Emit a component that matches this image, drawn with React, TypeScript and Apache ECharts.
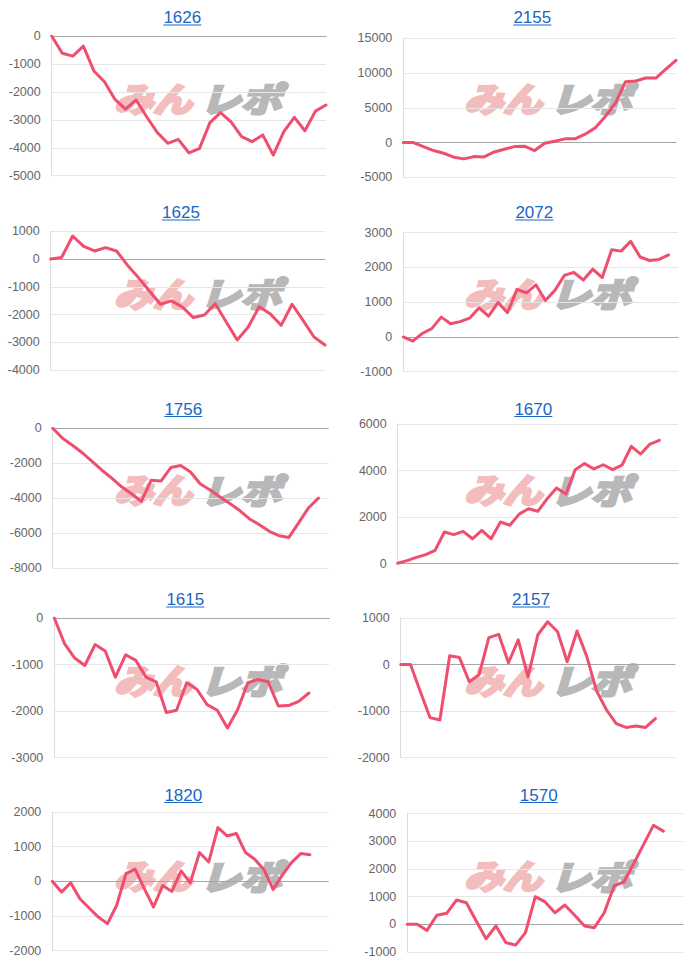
import React, { useEffect, useRef } from "react";
import * as echarts from "echarts";

// ---- data ----
const TITLES = ["1626", "2155", "1625", "2072", "1756", "1670", "1615", "2157", "1820", "1570"];

const S1626 = [0, -620, -720, -360, -1250, -1640, -2270, -2620, -2290, -2890, -3450, -3840, -3700, -4180, -4030, -3100, -2740, -3070, -3600, -3780, -3540, -4260, -3420, -2910, -3390, -2690, -2470];
const S2155 = [0, 0, -580, -1150, -1540, -2110, -2350, -2020, -2070, -1350, -960, -580, -530, -1150, -100, 190, 530, 530, 1200, 2110, 3750, 5670, 8750, 8850, 9280, 9280, 10580, 11830];
const S1625 = [0, 60, 830, 460, 290, 410, 290, -220, -670, -1150, -1630, -1510, -1730, -2110, -2020, -1610, -2270, -2920, -2450, -1720, -1970, -2390, -1630, -2210, -2810, -3100];
const S2072 = [0, -120, 100, 240, 570, 380, 440, 540, 840, 600, 990, 700, 1370, 1270, 1500, 1050, 1340, 1770, 1860, 1640, 1950, 1710, 2510, 2470, 2750, 2300, 2200, 2230, 2360];
const S1756 = [0, -570, -970, -1400, -1900, -2400, -2850, -3350, -3750, -4180, -2980, -3020, -2250, -2130, -2500, -3190, -3530, -3930, -4310, -4710, -5190, -5520, -5900, -6150, -6250, -5400, -4550, -4000];
const S1670 = [20, 130, 270, 390, 570, 1360, 1250, 1390, 1070, 1430, 1070, 1790, 1650, 2130, 2360, 2250, 2790, 3250, 2990, 4040, 4300, 4070, 4250, 4040, 4230, 5040, 4710, 5140, 5300];
const S1615 = [0, -550, -860, -1020, -570, -710, -1270, -790, -910, -1270, -1370, -2030, -1980, -1390, -1530, -1860, -1980, -2360, -1970, -1390, -1320, -1370, -1890, -1880, -1790, -1610];
const S2157 = [0, 0, -580, -1140, -1190, 190, 150, -370, -220, 580, 650, 40, 530, -270, 640, 920, 710, 60, 720, 170, -570, -970, -1270, -1350, -1320, -1350, -1160];
const S1820 = [0, -310, -40, -500, -770, -1030, -1220, -690, 220, 350, -210, -740, -120, -290, 300, -40, 830, 560, 1550, 1310, 1380, 830, 640, 340, -230, 180, 540, 800, 770];
const S1570 = [0, 0, -220, 330, 400, 880, 780, 120, -520, -60, -660, -750, -300, 1000, 810, 420, 700, 330, -60, -120, 420, 1390, 1530, 2200, 2890, 3580, 3370];

const SERIES = [S1626, S2155, S1625, S2072, S1756, S1670, S1615, S2157, S1820, S1570];

// number of x categories (days) on each chart
const CATEGORY_COUNTS = [27, 28, 26, 30, 29, 31, 28, 29, 31, 29];

// y-axis ticks
const Y_MIN = [-5000, -5000, -4000, -1000, -8000, 0, -3000, -2000, -2000, -1000];
const Y_MAX = [0, 15000, 1000, 3000, 0, 6000, 0, 1000, 2000, 4000];
const Y_STEP = [1000, 5000, 1000, 1000, 2000, 2000, 1000, 1000, 1000, 1000];

// ---- layout ----
const PLOTS = [
  { l: 51.7, t: 36, r: 326, b: 175.7 },
  { l: 403.3, t: 38.3, r: 676, b: 177.3 },
  { l: 50.7, t: 231.3, r: 325, b: 370 },
  { l: 403.3, t: 232.7, r: 678, b: 371.7 },
  { l: 52.7, t: 428.3, r: 328.3, b: 568 },
  { l: 397.7, t: 424, r: 678, b: 563.7 },
  { l: 54.3, t: 618, r: 329.3, b: 757.7 },
  { l: 400.7, t: 618, r: 675, b: 757.7 },
  { l: 52.3, t: 812, r: 328.3, b: 950.7 },
  { l: 407.3, t: 813.7, r: 683, b: 952 },
];
const TITLE_X = [182.3, 532.3, 181, 534.3, 183.3, 533.3, 185.3, 531, 183.3, 538.7];
const ROW_Y = [0, 195, 391.5, 582, 777.5];
const COL_X = [0, 350];

const LINE_COLOR = "#f04e6e";
const TITLE_COLOR = "#1a66c4";
const MARK_PINK = "#f3bdbd";
const MARK_GREY = "#b8b8b8";

function buildOption() {
  const grid: any[] = [];
  const xAxis: any[] = [];
  const yAxis: any[] = [];
  const series: any[] = [];
  const graphic: any[] = [];

  SERIES.forEach((data, i) => {
    const p = PLOTS[i];
    grid.push({ left: p.l, top: p.t, width: p.r - p.l, height: p.b - p.t, containLabel: false });
    const cats = Array.from({ length: CATEGORY_COUNTS[i] }, (_, k) => String(k + 1));
    xAxis.push({
      type: "category",
      gridIndex: i,
      data: cats,
      boundaryGap: false,
      axisLabel: { show: false },
      axisTick: { show: false },
      axisLine: { show: true, onZero: true, lineStyle: { color: "#a6a6a6", width: 1 } },
      splitLine: { show: false },
      z: 3,
    });
    yAxis.push({
      type: "value",
      gridIndex: i,
      min: Y_MIN[i],
      max: Y_MAX[i],
      interval: Y_STEP[i],
      axisLine: { show: true, lineStyle: { color: "#dcdcdc", width: 1 } },
      axisTick: { show: false },
      axisLabel: {
        color: "#666",
        fontSize: 12.5,
        margin: 11,
        fontFamily: "Liberation Sans, Arial, sans-serif",
        formatter: (v: number) => String(v),
      },
      splitLine: { show: true, lineStyle: { color: "#e6e6e6", width: 1 } },
    });
    series.push({
      type: "line",
      xAxisIndex: i,
      yAxisIndex: i,
      data,
      symbol: "none",
      smooth: false,
      z: 5,
      lineStyle: { color: LINE_COLOR, width: 3, join: "round", cap: "round" },
    });

    const row = Math.floor(i / 2);
    const col = i % 2;
    const ty = ROW_Y[row] + 17.5;
    const tx = TITLE_X[i];
    graphic.push({
      type: "text",
      x: tx,
      y: ty,
      style: {
        text: TITLES[i],
        fill: TITLE_COLOR,
        font: '17px "Liberation Sans", Arial, sans-serif',
        textAlign: "center",
        textVerticalAlign: "middle",
      },
    });
    graphic.push({
      type: "line",
      shape: { x1: tx - 19, y1: ty + 7.5, x2: tx + 19, y2: ty + 7.5 },
      style: { stroke: TITLE_COLOR, lineWidth: 1 },
    });
    // watermark
    const wx = COL_X[col];
    const wy = ROW_Y[row] + 97.5;
    graphic.push({
      type: "text",
      x: wx + 114,
      y: wy,
      scaleX: 1.15,
      z: -1,
      style: {
        text: "みん",
        fill: MARK_PINK,
        stroke: MARK_PINK,
        lineWidth: 3,
        font: 'italic bold 34px "Noto Sans CJK JP", sans-serif',
        textAlign: "left",
        textVerticalAlign: "middle",
      },
    });
    graphic.push({
      type: "text",
      x: wx + 200,
      y: wy,
      scaleX: 1.2,
      z: -1,
      style: {
        text: "レポ",
        fill: MARK_GREY,
        stroke: MARK_GREY,
        lineWidth: 3,
        font: 'italic bold 34px "Noto Sans CJK JP", sans-serif',
        textAlign: "left",
        textVerticalAlign: "middle",
      },
    });
  });

  return {
    animation: false,
    backgroundColor: "#ffffff",
    grid,
    xAxis,
    yAxis,
    series,
    graphic,
  };
}

export default function App() {
  const ref = useRef<HTMLDivElement>(null);
  useEffect(() => {
    if (!ref.current) return;
    const chart = echarts.init(ref.current, null, { renderer: "svg" });
    chart.setOption(buildOption() as any);
    return () => chart.dispose();
  }, []);
  return (
    <div
      ref={ref}
      style={{ position: "fixed", left: 0, top: 0, width: 700, height: 968, background: "#fff" }}
    />
  );
}
